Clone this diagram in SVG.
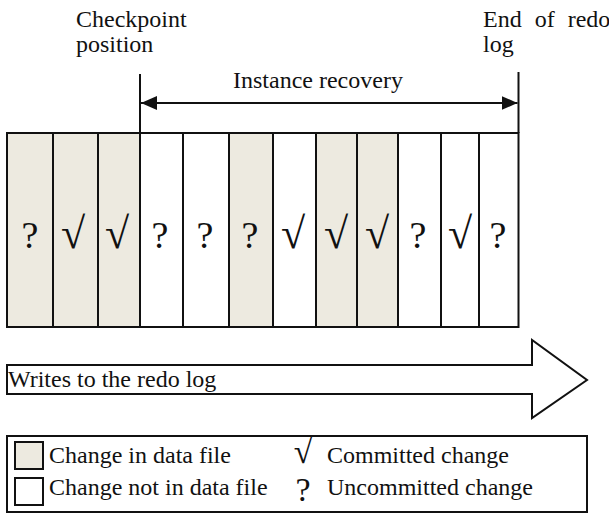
<svg xmlns="http://www.w3.org/2000/svg" width="609" height="514" viewBox="0 0 609 514">
<style>
text{font-family:"Liberation Serif","Times New Roman",serif;fill:#111}
.lbl{font-size:24px}
.sym{font-size:38px;text-anchor:middle}
.chk{font-size:44px;text-anchor:middle}
.cell{stroke:#111;stroke-width:2}
.in{fill:#EDEAE0}
.out{fill:#fff}
.ln{stroke:#111;stroke-width:2;fill:none}
</style>
<defs>
<marker id="ah" viewBox="0 0 16 14" refX="16" refY="7" markerWidth="16" markerHeight="14" markerUnits="userSpaceOnUse" orient="auto-start-reverse">
<path d="M0,0 L16,7 L0,14 Z" fill="#111"/>
</marker>
</defs>
<rect width="609" height="514" fill="#fff"/>
<g id="labels">
<text class="lbl" x="76" y="27">Checkpoint</text>
<text class="lbl" x="76" y="52">position</text>
<text class="lbl" x="483" y="27" word-spacing="7">End of redo</text>
<text class="lbl" x="483" y="52">log</text>
<text class="lbl" x="233" y="88">Instance recovery</text>
</g>
<g id="connectors">
<line class="ln" x1="140" y1="74" x2="140" y2="133"/>
<line class="ln" x1="518.5" y1="72" x2="518.5" y2="133"/>
<line class="ln" x1="141" y1="103" x2="517.5" y2="103" marker-start="url(#ah)" marker-end="url(#ah)"/>
</g>
<g id="cells">
<g id="c1"><rect class="cell in" x="7" y="133" width="46" height="194"/><text class="sym" x="30" y="248">?</text></g>
<g id="c2"><rect class="cell in" x="53" y="133" width="45" height="194"/><text class="chk" x="73" y="248">√</text></g>
<g id="c3"><rect class="cell in" x="98" y="133" width="42" height="194"/><text class="chk" x="117" y="248">√</text></g>
<g id="c4"><rect class="cell out" x="140" y="133" width="43" height="194"/><text class="sym" x="160" y="248">?</text></g>
<g id="c5"><rect class="cell out" x="183" y="133" width="46" height="194"/><text class="sym" x="205" y="248">?</text></g>
<g id="c6"><rect class="cell in" x="229" y="133" width="44" height="194"/><text class="sym" x="250" y="248">?</text></g>
<g id="c7"><rect class="cell out" x="273" y="133" width="43" height="194"/><text class="chk" x="293" y="248">√</text></g>
<g id="c8"><rect class="cell in" x="316" y="133" width="41" height="194"/><text class="chk" x="336" y="248">√</text></g>
<g id="c9"><rect class="cell in" x="357" y="133" width="41" height="194"/><text class="chk" x="377" y="248">√</text></g>
<g id="c10"><rect class="cell out" x="398" y="133" width="43" height="194"/><text class="sym" x="418" y="248">?</text></g>
<g id="c11"><rect class="cell out" x="441" y="133" width="38" height="194"/><text class="chk" x="460" y="248">√</text></g>
<g id="c12"><rect class="cell out" x="479" y="133" width="39.5" height="194"/><text class="sym" x="498" y="248">?</text></g>
</g>
<g id="writes">
<path class="ln" d="M7,365 H532 V340 L587,380 L532,418 V394 H7 Z" fill="#fff"/>
<text class="lbl" x="8" y="387">Writes to the redo log</text>
</g>
<g id="legend">
<rect class="ln" x="7" y="436" width="580" height="76"/>
<rect class="cell in" x="15" y="442" width="28" height="27"/>
<rect class="cell out" x="15" y="478" width="28" height="27"/>
<text class="lbl" x="49" y="463">Change in data file</text>
<text class="lbl" x="49" y="495">Change not in data file</text>
<text x="303" y="463" style="font-size:34px;text-anchor:middle">√</text>
<text x="303" y="501" style="font-size:34px;text-anchor:middle">?</text>
<text class="lbl" x="327" y="463">Committed change</text>
<text class="lbl" x="327" y="495">Uncommitted change</text>
</g>
</svg>
